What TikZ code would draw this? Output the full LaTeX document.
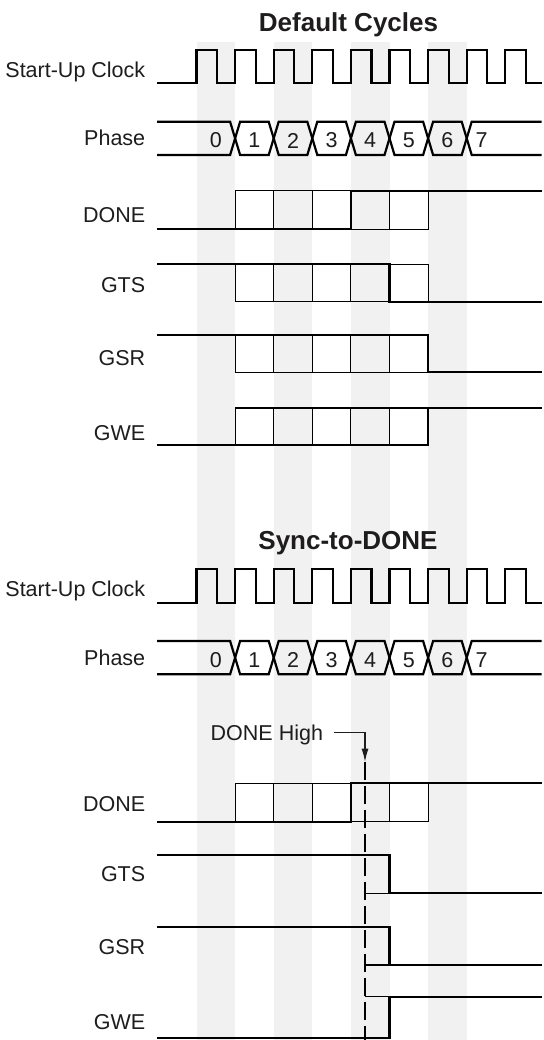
\documentclass[tikz,border=0pt]{standalone}
\usepackage{fontspec}
\setmainfont{Liberation Sans}
\usetikzlibrary{arrows.meta}
\definecolor{bandc}{RGB}{241,241,241}
\definecolor{ink}{RGB}{30,28,29}
\newcommand\xo{196.5}
\newcommand\Tp{38.6}
\newcommand\xend{541.5}
\newcommand\hx{5}
% clock row: #1 = low y, #2 = high y
\newcommand\clockrow[2]{%
  \draw[sig] (157,#1) \foreach \k in {0,...,8} {
     -- ({\xo+\k*\Tp},#1) -- ({\xo+\k*\Tp},#2)
     -- ({\xo+\k*\Tp+20.5},#2) -- ({\xo+\k*\Tp+20.5},#1) } -- (\xend,#1);}
% phase bus: #1 = top y, #2 = bottom y
\newcommand\busrow[2]{%
  \pgfmathsetmacro\mid{(#1+#2)/2}
  \draw[sig] (157,#1) -- ({\xo+\Tp-\hx},#1) -- ({\xo+\Tp},\mid) -- ({\xo+\Tp-\hx},#2) -- (157,#2);
  \foreach \k in {1,...,6} {
    \draw[sig] ({\xo+\k*\Tp},\mid) -- ({\xo+\k*\Tp+\hx},#1) -- ({\xo+(\k+1)*\Tp-\hx},#1)
      -- ({\xo+(\k+1)*\Tp},\mid) -- ({\xo+(\k+1)*\Tp-\hx},#2) -- ({\xo+\k*\Tp+\hx},#2) -- cycle;}
  \draw[sig] (\xend,#1) -- ({\xo+7*\Tp+\hx},#1) -- ({\xo+7*\Tp},\mid) -- ({\xo+7*\Tp+\hx},#2) -- (\xend,#2);}
% grid of boxes: #1 = top y, #2 = bottom y
\newcommand\gridrow[2]{%
  \draw[thinl] ({\xo+\Tp},#1) rectangle ({\xo+6*\Tp},#2);
  \foreach \k in {2,...,5} \draw[thinl] ({\xo+\k*\Tp},#1) -- ({\xo+\k*\Tp},#2);}
\begin{document}
\begin{tikzpicture}[x=1pt,y=-1pt,
  sig/.style={line width=2.2pt,draw=black,line join=miter},
  thinl/.style={line width=1.1pt,draw=black},
  lbl/.style={inner sep=0pt,text=ink,font=\fontsize{21.5}{25}\selectfont},
  ttl/.style={inner sep=0pt,text=ink,font=\fontsize{26}{30}\selectfont\bfseries},
  dig/.style={inner sep=0pt,text=ink,font=\fontsize{21.5}{25}\selectfont},
  arr/.style={line width=1.1pt,draw=ink,-{Latex[length=13pt,width=7pt]}},
  dashl/.style={line width=1.2pt,draw=black,dash pattern=on 18pt off 6pt}]
\useasboundingbox (0,0) rectangle (543,1040);
\fill[white] (0,0) rectangle (543,1040);
% gray phase bands
\foreach \k in {0,2,4,6}
  \fill[bandc] ({\xo+\k*\Tp},42.3) rectangle ({\xo+(\k+1)*\Tp},1040);

% ================= Default Cycles =================
\node[ttl,anchor=base] (t1) at (348.5,31.7) {Default Cycles};
\node[lbl,anchor=base east] (clk1) at (145.4,77.3) {Start-Up Clock};
\clockrow{83.3}{50}
\node[lbl,anchor=base east] (ph1) at (145.4,146) {Phase};
\busrow{121.7}{155}
\foreach \k in {0,...,6}
  \node[dig] (d1\k) at ({\xo+(\k+0.5)*\Tp},140.5) {\k};
\node[dig] (d17) at (481.7,140.5) {7};

% DONE
\node[lbl,anchor=base east] (done1) at (145.4,222.7) {DONE};
\gridrow{190.7}{229.3}
\draw[sig] (157,229.3) -- ({\xo+4*\Tp},229.3) -- ({\xo+4*\Tp},190.7) -- (\xend,190.7);
% GTS
\node[lbl,anchor=base east] (gts1) at (145.4,292.7) {GTS};
\gridrow{264.3}{301.7}
\draw[sig] (157,264.3) -- ({\xo+5*\Tp},264.3) -- ({\xo+5*\Tp},301.7) -- (\xend,301.7);
% GSR
\node[lbl,anchor=base east] (gsr1) at (145.4,365) {GSR};
\gridrow{334.7}{372.3}
\draw[sig] (157,334.7) -- ({\xo+6*\Tp},334.7) -- ({\xo+6*\Tp},372.3) -- (\xend,372.3);
% GWE
\node[lbl,anchor=base east] (gwe1) at (145.4,440.7) {GWE};
\gridrow{408}{445.3}
\draw[sig] (157,445.3) -- ({\xo+6*\Tp},445.3) -- ({\xo+6*\Tp},408) -- (\xend,408);

% ================= Sync-to-DONE =================
\node[ttl,anchor=base] (t2) at (348,549.3) {Sync-to-DONE};
\node[lbl,anchor=base east] (clk2) at (145.4,596.6) {Start-Up Clock};
\clockrow{602.6}{569.3}
\node[lbl,anchor=base east] (ph2) at (145.4,665.3) {Phase};
\busrow{641}{674.3}
\foreach \k in {0,...,6}
  \node[dig] (d2\k) at ({\xo+(\k+0.5)*\Tp},659.8) {\k};
\node[dig] (d27) at (481.7,659.8) {7};

% DONE High marker
\node[lbl,anchor=base west] (dh) at (210.5,740) {DONE High};
\coordinate (dtip) at (365,761.7);
\coordinate (dend) at (365,1040);

% DONE
\node[lbl,anchor=base east] (done2) at (145.4,811.7) {DONE};
\gridrow{783.3}{821.7}
\draw[sig] (157,821.7) -- ({\xo+4*\Tp},821.7) -- ({\xo+4*\Tp},783.3) -- (\xend,783.3);
% GTS
\node[lbl,anchor=base east] (gts2) at (145.4,881.7) {GTS};
\draw[thinl] (dtip |- 0,893.3) -- ({\xo+5*\Tp},893.3);
\draw[sig] (157,855) -- ({\xo+5*\Tp},855) -- ({\xo+5*\Tp},893.3) -- (\xend,893.3);
% GSR
\node[lbl,anchor=base east] (gsr2) at (145.4,954) {GSR};
\draw[thinl] (dtip |- 0,965) -- ({\xo+5*\Tp},965);
\draw[sig] (157,926.7) -- ({\xo+5*\Tp},926.7) -- ({\xo+5*\Tp},965) -- (\xend,965);
% GWE
\node[lbl,anchor=base east] (gwe2) at (145.4,1029) {GWE};
\draw[thinl] (dtip |- 0,996.7) -- ({\xo+5*\Tp},996.7);
\draw[sig] (157,1037.7) -- ({\xo+5*\Tp},1037.7) -- ({\xo+5*\Tp},996.7) -- (\xend,996.7);

% arrow and dashed marker line
\draw[arr] ([xshift=11pt,yshift=2pt]dh.east) -| (dtip);
\draw[dashl] (dtip) -- (dend);
\end{tikzpicture}
\end{document}
